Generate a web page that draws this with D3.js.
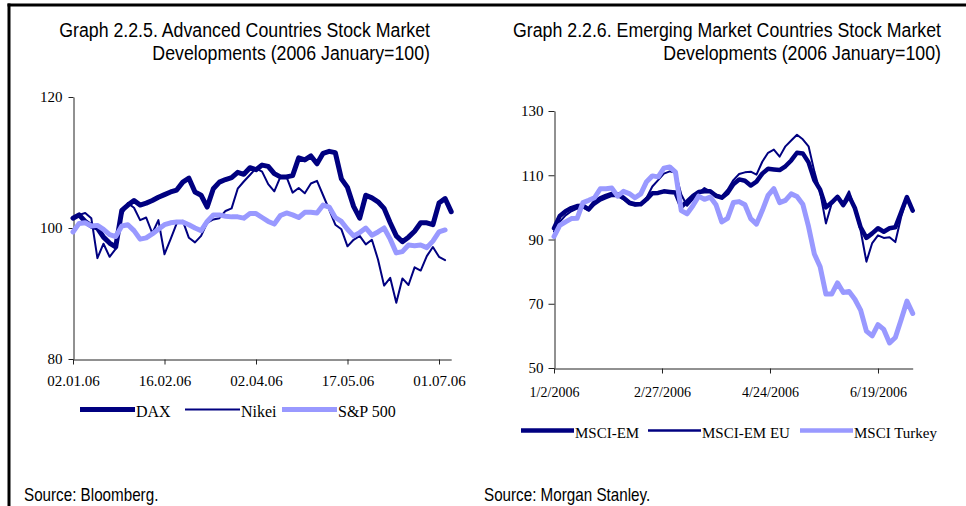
<!DOCTYPE html>
<html>
<head>
<meta charset="utf-8">
<script src="https://cdn.jsdelivr.net/npm/d3@7"></script>
<style>
  body { margin: 0; background: #fff; }
  svg { display: block; }
</style>
</head>
<body>
<svg id="chart" width="966" height="506"></svg>
<script>
// Sampling dates (every third calendar day, 2 Jan – 7 Jul 2006)
const dates = [
  "2006-01-02","2006-01-05","2006-01-08","2006-01-11","2006-01-14","2006-01-17","2006-01-20","2006-01-23","2006-01-26","2006-01-29",
  "2006-02-01","2006-02-04","2006-02-07","2006-02-10","2006-02-13","2006-02-16","2006-02-19","2006-02-22","2006-02-25","2006-02-28",
  "2006-03-03","2006-03-06","2006-03-09","2006-03-12","2006-03-15","2006-03-18","2006-03-21","2006-03-24","2006-03-27","2006-03-30",
  "2006-04-02","2006-04-05","2006-04-08","2006-04-11","2006-04-14","2006-04-17","2006-04-20","2006-04-23","2006-04-26","2006-04-29",
  "2006-05-02","2006-05-05","2006-05-08","2006-05-11","2006-05-14","2006-05-17","2006-05-20","2006-05-23","2006-05-26","2006-05-29",
  "2006-06-01","2006-06-04","2006-06-07","2006-06-10","2006-06-13","2006-06-16","2006-06-19","2006-06-22","2006-06-25","2006-06-28",
  "2006-07-01","2006-07-04","2006-07-07"
];

// Graph 2.2.5 – advanced markets (index, 2006 January = 100)
const dax = [
  101.5,102,101,100.3,100,98.6,97.7,97.1,102.7,103.5,
  104.2,103.5,103.8,104.2,104.7,105.1,105.5,105.8,107,107.6,
  105.5,105,103.2,106,107,107.4,107.7,108.5,108.2,109.2,
  108.9,109.6,109.4,108.3,107.8,107.8,108,110.7,110.4,111,
  109.8,111.4,111.7,111.5,107.5,106.2,103.3,101.5,105,104.6,
  104,103,100.8,98.8,97.9,98.6,99.5,100.8,100.8,100.5,
  103.8,104.5,102.5
];
const nikei = [
  101.5,102,102.3,101.5,95.4,97.6,95.6,96.8,102,103.8,
  103.1,101.2,101.6,99.2,101.2,96,98.3,100.7,101.1,98.5,
  97.8,98.8,100.8,101.3,101.5,102.6,103,106,107.1,108.1,
  109.1,108.6,106.7,105.6,107.8,107.8,105.4,106.1,105.3,106.8,
  107.2,105,102.8,100.5,99.8,97.2,98.2,98.8,97.5,98.2,
  95.2,91.2,92.4,88.6,92.3,91.3,94,93.5,95.7,97.1,
  95.6,95.1,null
];
const sp500 = [
  99.4,100.7,100.8,100.3,100.4,99.8,99,98.7,100.3,100.5,
  99.6,98.3,98.5,99.1,99.8,100.5,100.8,100.9,100.9,100.5,
  100,99.6,101,102,102,101.8,101.7,101.7,101.5,102.2,
  102.2,101.6,101,100.6,101.9,102.3,102,101.6,102.4,102.4,
  102.3,103.5,103.2,101.6,101,99.8,98.8,99.3,100,98.9,
  99.4,100,98.3,96.2,96.4,97.4,97.3,97.4,97,98,
  99.4,99.7,null
];

// Graph 2.2.6 – emerging markets (index, 2006 January = 100)
const msciEm = [
  93.5,97.3,98.8,99.8,100.4,100.5,99.4,101.6,102.8,103.6,
  104.2,104.1,103,101.5,101,101,102.5,104.4,104.5,105,
  104.8,104.6,100.2,101.8,103.5,104.8,105,105,103.6,103,
  104.5,107.2,108.7,108.3,106.8,108,110.5,112,111.8,111.6,
  112.8,114.6,117,116.8,114,108.5,105.5,100,101.5,103.3,
  100.7,103.5,99.8,93.8,90.5,91.9,93.5,92.4,93.5,93.8,
  98.5,103.2,99
];
const msciEmEu = [
  92.5,95.5,97.5,98.8,99.6,100,99,100.8,102,102.8,
  103.5,103.5,102.5,101,100.5,100.8,103,106.5,108.5,110.5,
  111.2,110.8,104,100.5,102.5,104.5,106,105,104,103.5,
  105.5,108.5,110.4,110.9,111.1,110.2,114.2,117,118,115.8,
  119,120.8,122.6,121.2,119,111.2,104.8,95,101.2,103.6,
  101.5,105,99.5,92.8,83.1,88.9,91.3,90.5,90.7,89.2,
  97,102.8,99.2
];
const msciTurkey = [
  90.9,94.4,95.5,96.5,96.6,101.5,102.2,103,105.8,105.8,
  106,103.5,105,104.3,103,104.2,108,109.8,109.5,112.2,
  112.6,111,99,98,100.5,103.5,102.5,103.2,100.8,95.5,
  96.6,101.5,101.8,100.8,96.5,94.8,99,103.7,105.8,101.5,
  102.2,104.2,103.4,101,94,85.5,81.5,73,73,76.5,
  73.5,73.8,71.4,68,61.5,60,63.5,62,57.8,59.5,
  65,70.8,67
];

// Axis ticks
const leftYTicks = [80, 100, 120];
const leftXTicks = ["2006-01-02","2006-02-16","2006-04-02","2006-05-17","2006-07-01"];
const rightYTicks = [50, 70, 90, 110, 130];
const rightXTicks = ["2006-01-02","2006-02-27","2006-04-24","2006-06-19"];

const NAVY = "#000080";
const LILAC = "#9999FF";
const parse = d3.timeParse("%Y-%m-%d");
const dateObjs = dates.map(parse);

const svg = d3.select("#chart");
svg.append("rect").attr("width", 966).attr("height", 506).attr("fill", "#fff");

// frame
svg.append("line").attr("x1", 7.5).attr("x2", 966).attr("y1", 5).attr("y2", 5)
  .attr("stroke", "#000").attr("stroke-width", 3);
svg.append("line").attr("x1", 9).attr("x2", 9).attr("y1", 3.5).attr("y2", 506)
  .attr("stroke", "#000").attr("stroke-width", 3);

// Narrow sans: regular sans compressed horizontally
const SANS = '"Liberation Sans","Arial",sans-serif';
const SERIF = '"Liberation Serif","Times New Roman",serif';
const NARROW = 0.845;

function narrowText(parent, x, y, str, size, anchor) {
  parent.append("text")
    .attr("transform", `translate(${x},${y}) scale(${NARROW},1)`)
    .attr("text-anchor", anchor)
    .attr("font-family", SANS).attr("font-size", size).attr("fill", "#000")
    .text(str);
}

function panel(cfg) {
  const g = svg.append("g");
  // title
  cfg.title.forEach((t, i) => narrowText(g, cfg.titleRight, 37 + i * 22.5, t, 21, "end"));

  const x = d3.scaleTime()
    .domain([parse("2006-01-02"), parse("2006-07-07")])
    .range([cfg.x0, cfg.x1]);
  const y = d3.scaleLinear().domain(cfg.yDomain).range([cfg.yBottom, cfg.yTop]);

  // y axis
  const ya = g.append("g").attr("transform", `translate(${cfg.x0 + 0.5},0)`)
    .call(d3.axisLeft(y).tickValues(cfg.yTicks).tickSize(cfg.yTickSize)
      .tickSizeOuter(0).tickPadding(cfg.yPad).tickFormat(d3.format("d")));
  ya.selectAll("text").attr("font-family", SERIF).attr("font-size", cfg.yFont).attr("fill", "#000");
  ya.selectAll("path,line").attr("stroke", "#222");

  // x axis
  const xa = g.append("g").attr("transform", `translate(0,${cfg.yBottom + 0.5})`)
    .call(d3.axisBottom(x).tickValues(cfg.xTicks.map(parse)).tickSize(5)
      .tickSizeOuter(0).tickPadding(cfg.xPad).tickFormat(cfg.xFormat));
  xa.selectAll("text").attr("font-family", SERIF).attr("font-size", cfg.xFont).attr("fill", "#000");
  xa.selectAll("path,line").attr("stroke", "#222");

  // series
  const line = d3.line()
    .defined(d => d[1] != null)
    .x(d => x(d[0])).y(d => y(d[1]));
  cfg.series.forEach(s => {
    g.append("path")
      .datum(dateObjs.map((d, i) => [d, s.values[i]]))
      .attr("fill", "none").attr("stroke", s.color).attr("stroke-width", s.width)
      .attr("stroke-linejoin", "round").attr("stroke-linecap", "round")
      .attr("d", line);
  });

  // legend
  cfg.series.forEach((s, i) => {
    const lx = cfg.legendX[i];
    g.append("line").attr("x1", lx).attr("x2", lx + cfg.legendLen)
      .attr("y1", cfg.legendY).attr("y2", cfg.legendY)
      .attr("stroke", s.color).attr("stroke-width", s.legendWidth);
    g.append("text").attr("x", lx + cfg.legendLen + 1).attr("y", cfg.legendY + 7)
      .attr("font-family", SERIF).attr("font-size", cfg.legendFont).attr("fill", "#000")
      .text(s.name);
  });

  // source
  narrowText(g, cfg.sourceX, 501, cfg.source, 18, "start");
}

const fmtDot = d3.timeFormat("%d.%m.%y");
const fmtSlash = d => `${d.getMonth() + 1}/${d.getDate()}/${d.getFullYear()}`;

panel({
  title: ["Graph 2.2.5. Advanced Countries Stock Market", "Developments (2006 January=100)"],
  titleRight: 430,
  x0: 73, x1: 451.2, yTop: 97, yBottom: 359,
  yDomain: [80, 120], yTicks: leftYTicks, yTickSize: 5, yPad: 6, yFont: 15,
  xTicks: leftXTicks, xPad: 11, xFont: 15, xFormat: fmtDot,
  series: [
    { name: "DAX", values: dax, color: NAVY, width: 5, legendWidth: 5 },
    { name: "Nikei", values: nikei, color: NAVY, width: 2, legendWidth: 2 },
    { name: "S&P 500", values: sp500, color: LILAC, width: 5, legendWidth: 5 }
  ],
  legendX: [80, 185, 282], legendLen: 55, legendY: 409.5, legendFont: 16,
  sourceX: 24, source: "Source: Bloomberg."
});

panel({
  title: ["Graph 2.2.6. Emerging Market Countries Stock Market", "Developments (2006 January=100)"],
  titleRight: 941,
  x0: 554, x1: 912.7, yTop: 111, yBottom: 368,
  yDomain: [50, 130], yTicks: rightYTicks, yTickSize: 6, yPad: 5, yFont: 15,
  xTicks: rightXTicks, xPad: 14, xFont: 14, xFormat: fmtSlash,
  series: [
    { name: "MSCI-EM", values: msciEm, color: NAVY, width: 4.5, legendWidth: 4.5 },
    { name: "MSCI-EM EU", values: msciEmEu, color: NAVY, width: 2, legendWidth: 2.5 },
    { name: "MSCI Turkey", values: msciTurkey, color: LILAC, width: 5, legendWidth: 4.5 }
  ],
  legendX: [521, 648, 800], legendLen: 53, legendY: 430.5, legendFont: 15,
  sourceX: 484, source: "Source: Morgan Stanley."
});
</script>
</body>
</html>
